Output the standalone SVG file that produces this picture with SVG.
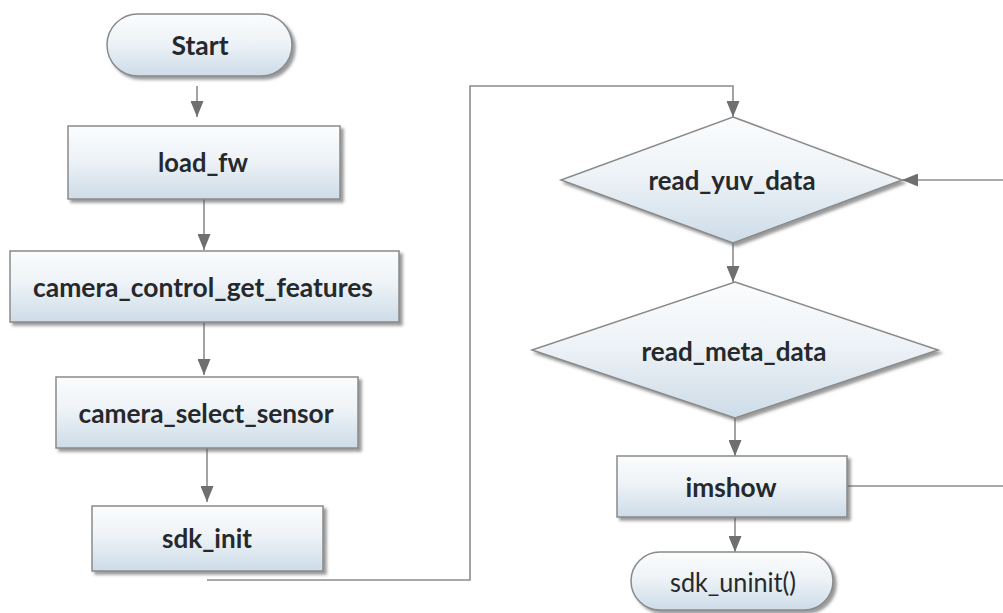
<svg xmlns="http://www.w3.org/2000/svg" width="1003" height="613" viewBox="0 0 1003 613">
<defs>
<linearGradient id="g" x1="0" y1="0" x2="0" y2="1">
<stop offset="0" stop-color="#fbfcfd"/>
<stop offset="0.45" stop-color="#eef3f7"/>
<stop offset="1" stop-color="#cddce8"/>
</linearGradient>
<filter id="sh" x="-10%" y="-10%" width="125%" height="135%">
<feDropShadow dx="3" dy="3" stdDeviation="1.6" flood-color="#555" flood-opacity="0.6"/>
</filter>
<marker id="ah" viewBox="0 0 16 13" refX="16" refY="6.5" markerWidth="16" markerHeight="13" markerUnits="userSpaceOnUse" orient="auto">
<path d="M0,0 L16,6.5 L0,13 Z" fill="#6f6f6f"/>
</marker>
<style>
.n{fill:url(#g);stroke:#8a8a8a;stroke-width:1.5;filter:url(#sh)}
.t{font-family:Lato,"Open Sans",sans-serif;font-weight:700;font-size:27px;fill:#26292c;text-anchor:middle}
.r{font-family:Lato,"Open Sans",sans-serif;font-weight:400;font-size:27px;fill:#26292c;text-anchor:middle}
.c{fill:none;stroke:#8c8c8c;stroke-width:1.6}
</style>
</defs>
<rect width="1003" height="613" fill="#ffffff"/>
<g id="connectors">
<line class="c" x1="197" y1="86" x2="197" y2="117" marker-end="url(#ah)"/>
<line class="c" x1="204" y1="199" x2="204" y2="250" marker-end="url(#ah)"/>
<line class="c" x1="204" y1="322" x2="204" y2="375" marker-end="url(#ah)"/>
<line class="c" x1="207" y1="448" x2="207" y2="502" marker-end="url(#ah)"/>
<polyline class="c" points="207,580 470,580 470,86 733,86 733,117" marker-end="url(#ah)"/>
<line class="c" x1="1003" y1="180" x2="902" y2="180" marker-end="url(#ah)"/>
<line class="c" x1="733" y1="243" x2="733" y2="282" marker-end="url(#ah)"/>
<line class="c" x1="735" y1="418" x2="735" y2="456" marker-end="url(#ah)"/>
<line class="c" x1="735" y1="517" x2="735" y2="552" marker-end="url(#ah)"/>
<line class="c" x1="847" y1="486" x2="1003" y2="486"/>
</g>
<g id="start">
<rect class="n" x="107" y="14" width="185" height="62" rx="31" ry="31"/>
<text class="t" x="200" y="55" textLength="57" lengthAdjust="spacingAndGlyphs">Start</text>
</g>
<g id="load_fw">
<rect class="n" x="68" y="126" width="272" height="73"/>
<text class="t" x="203" y="172" textLength="90" lengthAdjust="spacingAndGlyphs">load_fw</text>
</g>
<g id="camera_control_get_features">
<rect class="n" x="10" y="251" width="389" height="71"/>
<text class="t" x="203" y="297" textLength="340" lengthAdjust="spacingAndGlyphs">camera_control_get_features</text>
</g>
<g id="camera_select_sensor">
<rect class="n" x="56" y="377" width="302" height="71"/>
<text class="t" x="206" y="423" textLength="255" lengthAdjust="spacingAndGlyphs">camera_select_sensor</text>
</g>
<g id="sdk_init">
<rect class="n" x="92" y="506" width="231" height="65"/>
<text class="t" x="207" y="548" textLength="90" lengthAdjust="spacingAndGlyphs">sdk_init</text>
</g>
<g id="read_yuv_data">
<polygon class="n" points="733,117 902,180 733,243 561,180"/>
<text class="t" x="732" y="190" textLength="167" lengthAdjust="spacingAndGlyphs">read_yuv_data</text>
</g>
<g id="read_meta_data">
<polygon class="n" points="735,282 938,350 735,418 532,350"/>
<text class="t" x="734" y="361" textLength="185" lengthAdjust="spacingAndGlyphs">read_meta_data</text>
</g>
<g id="imshow">
<rect class="n" x="617" y="456" width="230" height="61"/>
<text class="t" x="731" y="497" textLength="91" lengthAdjust="spacingAndGlyphs">imshow</text>
</g>
<g id="sdk_uninit">
<rect class="n" x="631" y="552" width="202" height="58" rx="29" ry="29"/>
<text class="r" x="733" y="592" textLength="126" lengthAdjust="spacingAndGlyphs">sdk_uninit()</text>
</g>
</svg>
